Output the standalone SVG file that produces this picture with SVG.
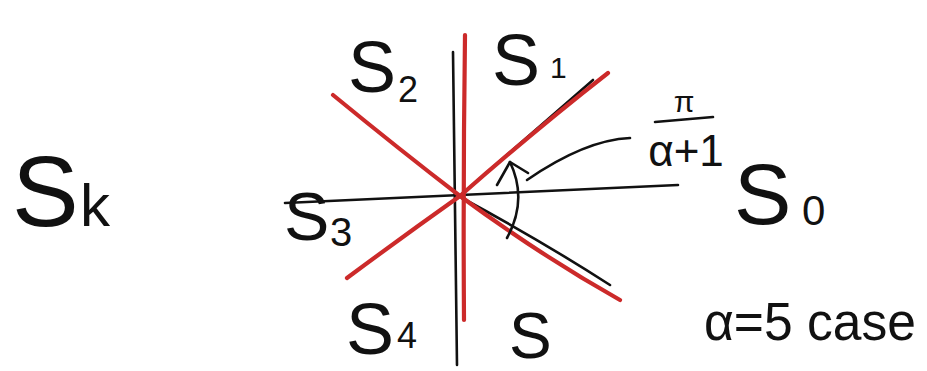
<svg xmlns="http://www.w3.org/2000/svg" width="927" height="371" viewBox="0 0 927 371">
<style>
.ink{fill:none;stroke:#111;stroke-width:2.6;stroke-linecap:round;stroke-linejoin:round}
.red{fill:none;stroke:#cc2a2a;stroke-width:4.2;stroke-linecap:round;stroke-linejoin:round}
.lbl{font-family:"Liberation Sans","DejaVu Sans",sans-serif;fill:#111}
.sub{font-family:"Liberation Sans","DejaVu Sans",sans-serif;fill:#111}
</style>
<rect width="927" height="371" fill="#fff"/>
<g id="connectors">
  <path class="ink" d="M453,52 Q455,200 457,365"/>
  <path class="ink" d="M285,203 Q460,195 678,185"/>
  <path class="ink" d="M462,194 Q530,135 593,80"/>
  <path class="ink" d="M462,198 Q540,240 610,285"/>
  <path class="red" d="M465,35 Q463,180 464,320"/>
  <path class="red" d="M333,95 Q400,150 460,196 Q540,255 620,300"/>
  <path class="red" d="M347,278 Q405,235 460,196 Q535,130 608,73"/>
  <path class="ink" d="M507,238 Q528,200 510,162"/>
  <path class="ink" d="M497,185 L510,162 L528,173"/>
  <path class="ink" d="M527,180 Q585,140 630,138"/>
</g>
<g id="sk"><text class="lbl" x="12" y="226" font-size="100">S</text><text class="sub" x="80" y="226" font-size="60">k</text></g>
<g id="s2"><text class="lbl" x="348" y="92" font-size="72">S</text><text class="sub" x="398" y="102" font-size="36">2</text></g>
<g id="s1"><text class="lbl" x="492" y="85" font-size="72">S</text><text class="sub" x="550" y="78" font-size="30">1</text></g>
<g id="s3"><text class="lbl" x="284" y="240" font-size="68">S</text><text class="sub" x="330" y="246" font-size="40">3</text></g>
<g id="s4"><text class="lbl" x="346" y="354" font-size="72">S</text><text class="sub" x="397" y="348" font-size="36">4</text></g>
<g id="s5"><text class="lbl" x="509" y="358" font-size="64">S</text></g>
<g id="s0"><text class="lbl" x="734" y="224" font-size="86">S</text><text class="sub" x="802" y="225" font-size="42">0</text></g>
<g id="frac">
  <text class="sub" x="684" y="112" font-size="30" text-anchor="middle">π</text>
  <path class="ink" d="M655,122 L713,117"/>
  <text class="sub" x="686" y="166" font-size="44" text-anchor="middle">α+1</text>
</g>
<g id="caption"><text class="sub" x="704" y="340" font-size="54" textLength="212" lengthAdjust="spacingAndGlyphs">α=5 case</text></g>
</svg>
